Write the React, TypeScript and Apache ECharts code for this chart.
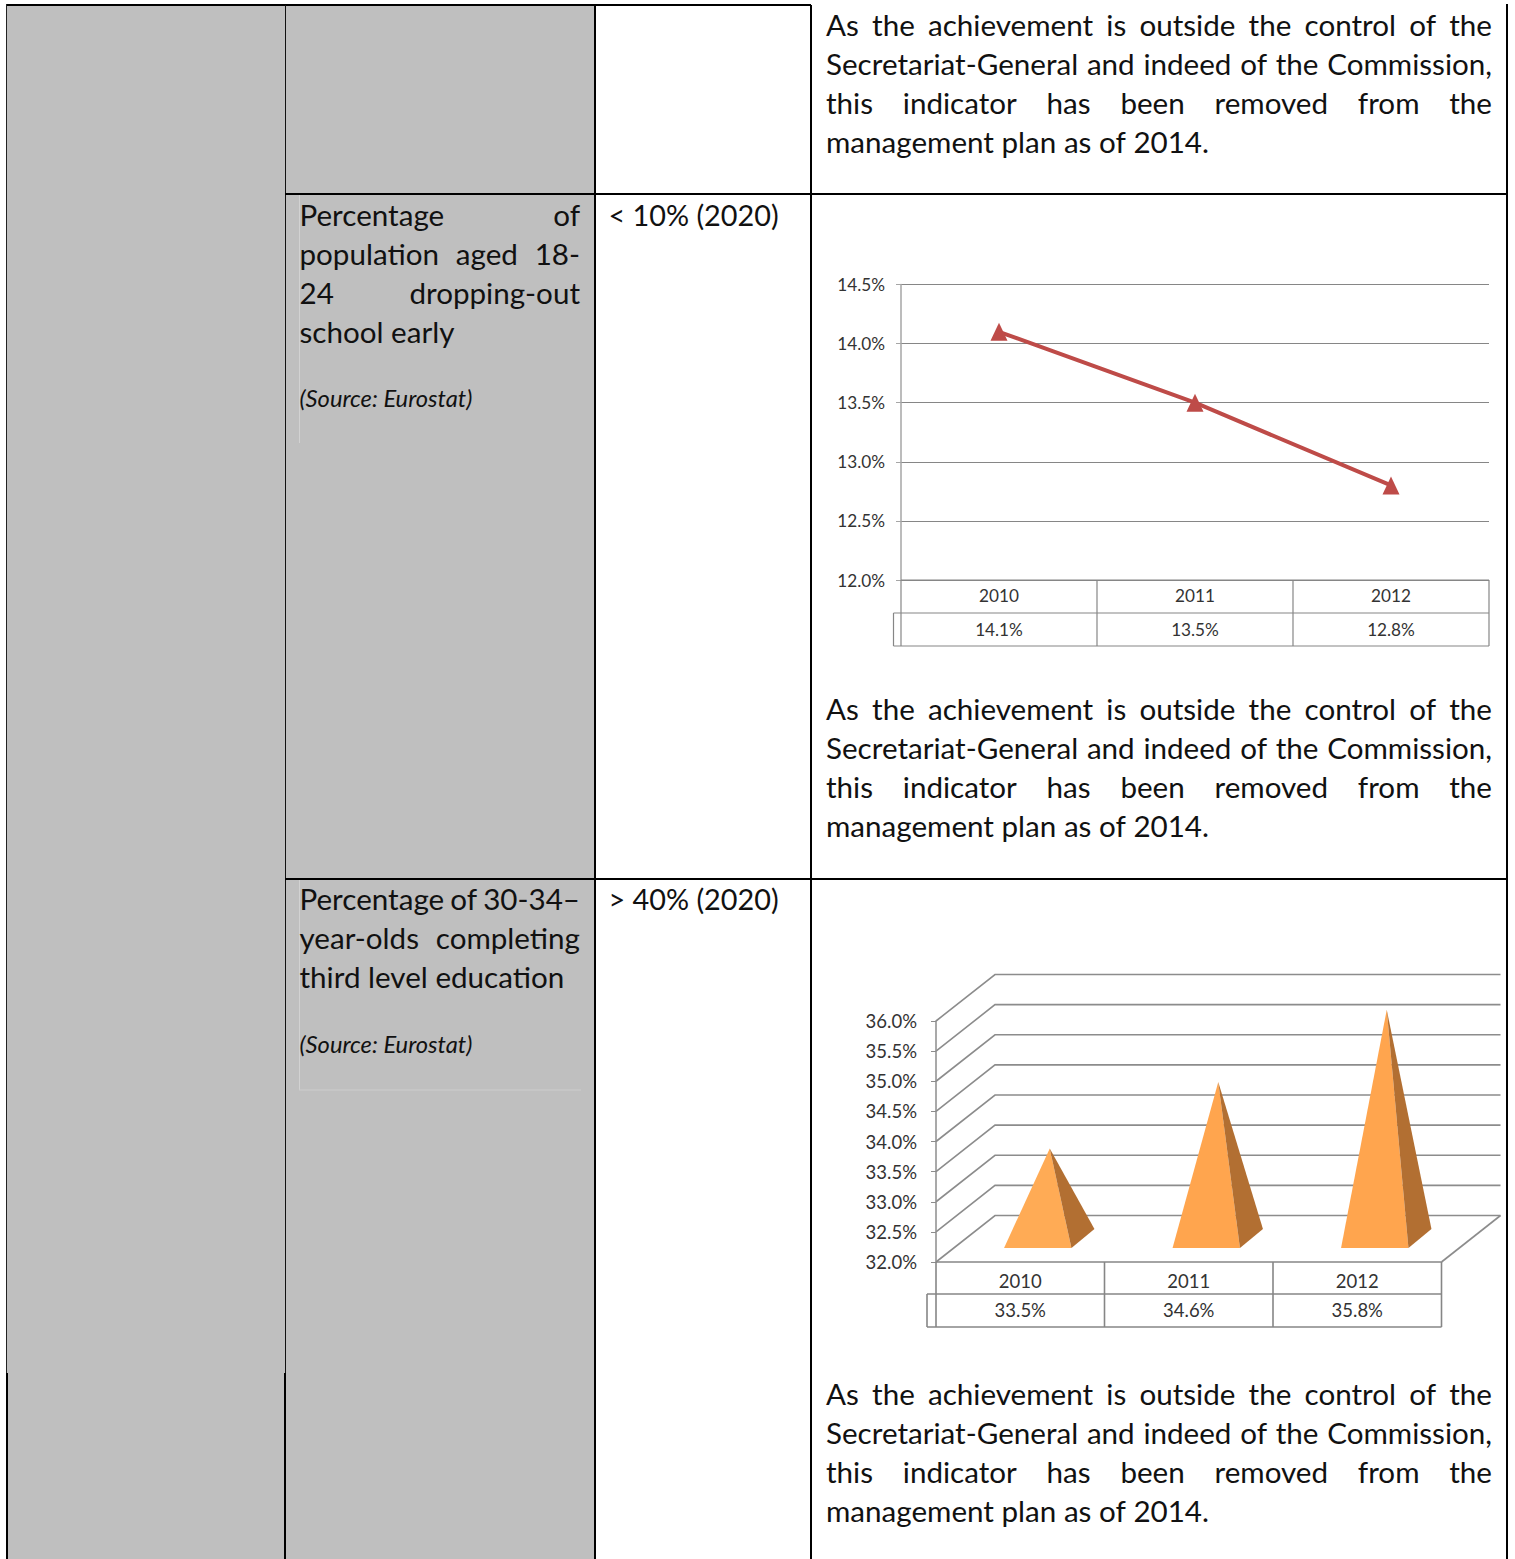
import React, { useEffect, useRef } from "react";
import * as echarts from "echarts";

const years = ["2010", "2011", "2012"];
const earlyLeavers = [14.1, 13.5, 12.8];
const tertiary = [33.5, 34.6, 35.8];
const leaverTicks = [12, 12.5, 13, 13.5, 14, 14.5];
const tertiaryTicks = [32, 32.5, 33, 33.5, 34, 34.5, 35, 35.5, 36];

const removalNote = [
  "As the achievement is outside the control of the",
  "Secretariat-General and indeed of the Commission,",
  "this indicator has been removed from the",
  "management plan as of 2014.",
];
const leaverTitle = ["Percentage of", "population aged 18-", "24 dropping-out", "school early"];
const tertiaryTitle = ["Percentage of 30-34–", "year-olds completing", "third level education"];
const sourceNote = "(Source: Eurostat)";
const leaverTarget = "< 10% (2020)";
const tertiaryTarget = "> 40% (2020)";

const FONT = "Lato";
const BODY_SIZE = 29.6;
const TARGET_SIZE = 28.8;
const SOURCE_SIZE = 23.7;
const INK = "#111111";
const GREY = "#BFBFBF";
const RULE = "#868686";
const pct = (v: number) => v.toFixed(1) + "%";

const ruler = document.createElement("canvas").getContext("2d")!;
function widthOf(s: string, font: string) {
  ruler.font = font;
  return ruler.measureText(s).width;
}

// Lays a line out word by word; when `right` is given the gaps stretch to reach it.
function textRow(line: string, x: number, y: number, right?: number, size = BODY_SIZE, italic = false): any[] {
  const font = `${italic ? "italic " : ""}${size}px ${FONT}`;
  const words = line.split(" ");
  const widths = words.map((w) => widthOf(w, font));
  const total = widths.reduce((a, b) => a + b, 0);
  const gap = right !== undefined && words.length > 1 ? (right - x - total) / (words.length - 1) : widthOf(" ", font);
  let cursor = x;
  return words.map((w, i) => {
    const el = {
      type: "text",
      z: 20,
      x: cursor,
      y,
      style: {
        text: w,
        fontFamily: FONT,
        fontSize: size,
        fontStyle: italic ? "italic" : "normal",
        fill: INK,
        align: "left",
        verticalAlign: "middle",
      },
    };
    cursor += widths[i] + gap;
    return el;
  });
}

function rule(x1: number, y1: number, x2: number, y2: number, stroke = "#000000", lineWidth = 2, z = 5) {
  return { type: "line", z, shape: { x1, y1, x2, y2 }, style: { stroke, lineWidth } };
}
function block(x: number, y: number, width: number, height: number, fill: string) {
  return { type: "rect", z: 1, shape: { x, y, width, height }, style: { fill } };
}

// Cell grid below a plot: a header row of years and a row of values.
function dataTable(left: number, stub: number, top: number, mid: number, bottom: number, band: number, w: number) {
  const out: any[] = [
    rule(left, top, left + band * 3, top, RULE, w),
    rule(stub, mid, left + band * 3, mid, RULE, w),
    rule(stub, bottom, left + band * 3, bottom, RULE, w),
    rule(stub, mid, stub, bottom, RULE, w),
  ];
  for (let i = 0; i <= 3; i++) out.push(rule(left + band * i, top, left + band * i, bottom, RULE, w));
  return out;
}

const noteRows = (top: number) =>
  removalNote.flatMap((line, i) => textRow(line, 826, top + i * 39.2, i < 3 ? 1492 : undefined));

function frameElements(): any[] {
  return [
    block(7, 5, 278, 1554, GREY),
    block(286, 5, 308, 1554, GREY),
    rule(6, 5, 811, 5),
    rule(6.5, 4, 6.5, 1373, "#222222", 1),
    rule(7, 1373, 7, 1559),
    rule(285.5, 5, 285.5, 1373, "#111111", 1),
    rule(285, 1373, 285, 1559),
    rule(595, 5, 595, 1373),
    rule(595, 1373, 595, 1559),
    rule(811, 5, 811, 1559),
    rule(1507, 4, 1507, 1559),
    rule(285, 194, 1507, 194),
    rule(285, 879, 1507, 879),
    rule(299.5, 195, 299.5, 443, "#D2D2D2", 1),
    rule(299.5, 880, 299.5, 1090, "#D2D2D2", 1),
    rule(299, 1090, 581, 1090, "#CDCDCD", 1),
  ];
}

function proseElements(): any[] {
  return [
    ...noteRows(24.3),
    ...noteRows(708.3),
    ...noteRows(1393.3),
    ...leaverTitle.flatMap((line, i) => textRow(line, 299.5, 214.2 + i * 39, i < 3 ? 580 : undefined)),
    ...textRow(sourceNote, 299.5, 397.5, undefined, SOURCE_SIZE, true),
    ...textRow(leaverTarget, 608.5, 215.4, undefined, TARGET_SIZE),
    ...tertiaryTitle.flatMap((line, i) => textRow(line, 299.5, 898.2 + i * 39, i < 2 ? 580 : undefined)),
    ...textRow(sourceNote, 299.5, 1043.5, undefined, SOURCE_SIZE, true),
    ...textRow(tertiaryTarget, 608.5, 899.4, undefined, TARGET_SIZE),
  ];
}

const WALL_DX = 59;
const WALL_DY = 46.5;

// Receding gridlines: front tick, up the side wall, then across the back wall.
function renderWall(params: any, api: any) {
  const sys = params.coordSys;
  const v = api.value(1);
  const y = api.coord([0, v])[1];
  const style = { stroke: "#8C8C8C", lineWidth: 1.6, fill: "none" };
  const children: any[] = [
    {
      type: "polyline",
      shape: {
        points: [
          [sys.x, y],
          [sys.x + WALL_DX, y - WALL_DY],
          [sys.x + sys.width + WALL_DX, y - WALL_DY],
        ],
      },
      style,
    },
  ];
  if (v === tertiaryTicks[0]) {
    children.push({
      type: "line",
      shape: { x1: sys.x + sys.width, y1: y, x2: sys.x + sys.width + WALL_DX, y2: y - WALL_DY },
      style,
    });
  }
  return { type: "group", children };
}

// Each pyramid sits on the floor; its apex rises to the value at mid depth.
function renderPyramid(params: any, api: any) {
  const sys = params.coordSys;
  const top = api.coord([api.value(0), api.value(1)]);
  const band = api.size([1, 0])[0];
  const half = band * 0.2;
  const floorY = sys.y + sys.height;
  const frontY = floorY - 14;
  const midX = top[0] + 17.5;
  const left = midX - half;
  const right = midX + half;
  const apex = [top[0] + WALL_DX / 2, top[1] - WALL_DY / 2];
  const back = [right + 23, frontY - 19];
  return {
    type: "group",
    children: [
      {
        type: "polygon",
        shape: { points: [[left, frontY], [right, frontY], apex] },
        style: { fill: params.dataIndex === 0 ? "#FFAB55" : "#FFA54E" },
      },
      {
        type: "polygon",
        shape: { points: [[right, frontY], back, apex] },
        style: { fill: "#B26F32" },
      },
    ],
  };
}

function categoryAxes(gridIndex: number, values: number[], size: number, margin: number, gap: number) {
  const common = {
    type: "category",
    gridIndex,
    position: "bottom",
    axisLine: { show: false },
    axisTick: { show: false },
    splitLine: { show: false },
  };
  const label = { fontFamily: FONT, fontSize: size, color: "#333333", margin };
  return [
    { ...common, data: years, axisLabel: label },
    { ...common, data: values.map(pct), offset: gap, axisLabel: label },
  ];
}

function valueAxis(gridIndex: number, ticks: number[], size: number, margin: number, lineColor: string, showSplit: boolean) {
  return {
    type: "value",
    gridIndex,
    min: ticks[0],
    max: ticks[ticks.length - 1],
    interval: 0.5,
    axisLine: { show: true, lineStyle: { color: lineColor, width: 1.5 } },
    axisTick: { show: true, length: 5, lineStyle: { color: lineColor } },
    axisLabel: { fontFamily: FONT, fontSize: size, color: "#333333", margin, formatter: pct },
    splitLine: { show: showSplit, lineStyle: { color: RULE, width: 1.2 } },
  };
}

export default function App() {
  const host = useRef<HTMLDivElement>(null);
  useEffect(() => {
    const chart = echarts.init(host.current!, null, { renderer: "svg" });
    chart.setOption({
      animation: false,
      backgroundColor: "#FFFFFF",
      grid: [
        { left: 901, top: 284.5, width: 588, height: 295.5 },
        { left: 936, top: 1021, width: 505.5, height: 241 },
      ],
      xAxis: [...categoryAxes(0, earlyLeavers, 17.2, 7, 34), ...categoryAxes(1, tertiary, 18.5, 9, 29)],
      yAxis: [
        valueAxis(0, leaverTicks, 17.2, 16, "#A6A6A6", true),
        valueAxis(1, tertiaryTicks, 18.5, 19, "#8C8C8C", false),
      ],
      series: [
        {
          type: "line",
          xAxisIndex: 0,
          yAxisIndex: 0,
          data: earlyLeavers,
          symbol: "triangle",
          symbolSize: [17, 18],
          lineStyle: { color: "#BE4B48", width: 4 },
          itemStyle: { color: "#BE4B48" },
        },
        {
          type: "custom",
          xAxisIndex: 2,
          yAxisIndex: 1,
          z: 1,
          clip: false,
          data: tertiaryTicks.map((v) => [0, v]),
          encode: { x: 0, y: 1 },
          renderItem: renderWall,
        },
        {
          type: "custom",
          xAxisIndex: 2,
          yAxisIndex: 1,
          z: 3,
          clip: false,
          data: tertiary.map((v, i) => [i, v]),
          encode: { x: 0, y: 1 },
          renderItem: renderPyramid,
        },
      ],
      graphic: {
        elements: [
          ...frameElements(),
          ...dataTable(901, 893.5, 580, 613, 646, 196, 1.2),
          ...dataTable(936, 927, 1262, 1294, 1327, 168.5, 1.6),
          ...proseElements(),
        ],
      },
    });
    return () => chart.dispose();
  }, []);
  return <div ref={host} style={{ position: "absolute", left: 0, top: 0, width: 1515, height: 1559 }} />;
}
